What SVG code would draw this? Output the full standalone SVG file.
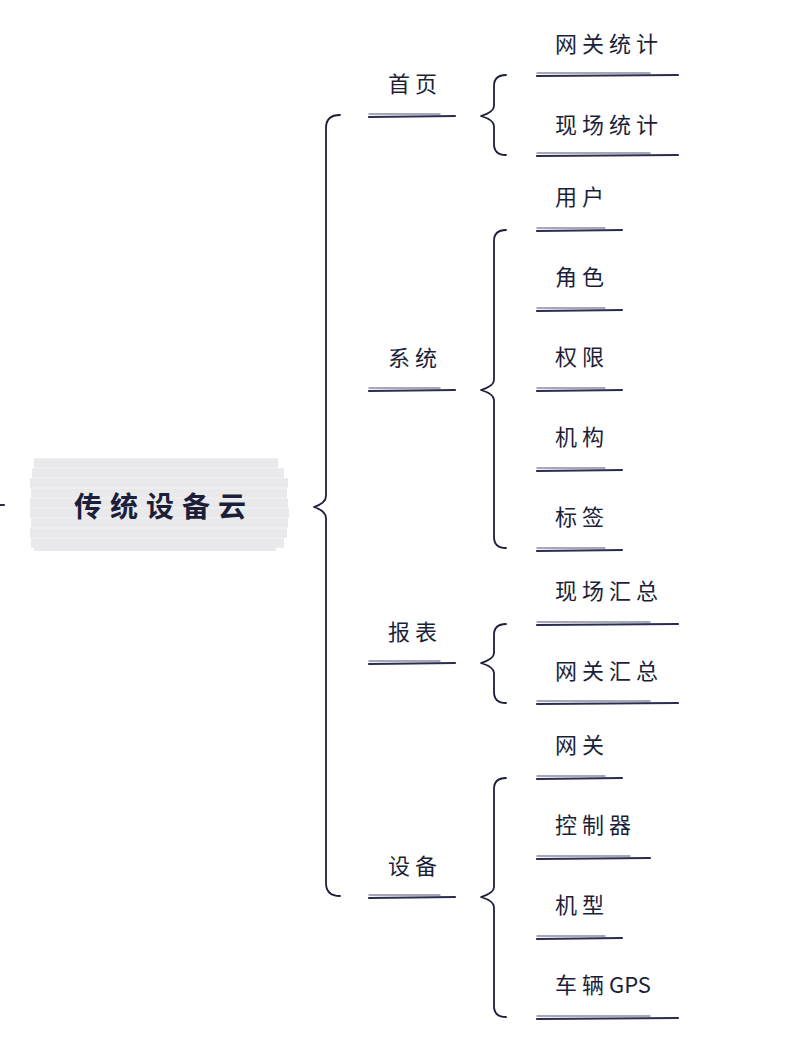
<svg xmlns="http://www.w3.org/2000/svg" width="806" height="1056" viewBox="0 0 806 1056">
<defs>
<style>
.br{fill:none;stroke:#1c1f3a;stroke-width:1.8;stroke-linecap:round;stroke-linejoin:round}
.u1{stroke:#2a2d4f;stroke-width:2.2;stroke-linecap:round}
.u2{stroke:#8a8ca0;stroke-width:1.4;stroke-linecap:round}
.t{font-family:"Noto Sans CJK SC","Noto Sans",sans-serif;font-size:22px;fill:#1c1f3a;letter-spacing:5px}
.root{font-family:"Noto Sans CJK SC","Noto Sans",sans-serif;font-size:28px;font-weight:bold;fill:#1c1f3a;letter-spacing:8px}
.bg{stroke:#e9e9eb;stroke-width:9.5;stroke-linecap:butt}
.gps{letter-spacing:0px}
</style>
</defs>
<rect width="806" height="1056" fill="#ffffff"/>
<g id="connectors">
<path class="br" d="M340,115 Q326,115 326,128 L326,496 Q326,503 314,507 Q326,511 326,518 L326,883 Q326,896 340,896"/>
<path class="br" d="M506,75 Q494,75 494,86 L494,106 Q494,112 481,116 Q494,120 494,126 L494,144 Q494,155 506,155"/>
<path class="br" d="M506,230 Q494,230 494,241 L494,380 Q494,386 481,390 Q494,394 494,400 L494,537 Q494,548 506,548"/>
<path class="br" d="M506,624 Q494,624 494,635 L494,653 Q494,659 481,663 Q494,667 494,673 L494,692 Q494,703 506,703"/>
<path class="br" d="M506,778 Q494,778 494,789 L494,887 Q494,893 481,897 Q494,901 494,907 L494,1006 Q494,1017 506,1017"/>
<line x1="0" y1="505" x2="4" y2="505" class="u1"/>
</g>
<g id="root">
<line class="bg" x1="34" y1="463" x2="278" y2="463"/>
<line class="bg" x1="32" y1="473" x2="284" y2="473"/>
<line class="bg" x1="30" y1="483" x2="288" y2="483"/>
<line class="bg" x1="31" y1="493" x2="287" y2="493"/>
<line class="bg" x1="30" y1="503" x2="288" y2="503"/>
<line class="bg" x1="30" y1="513" x2="289" y2="513"/>
<line class="bg" x1="31" y1="523" x2="288" y2="523"/>
<line class="bg" x1="30" y1="533" x2="287" y2="533"/>
<line class="bg" x1="31" y1="543" x2="284" y2="543"/>
<line class="bg" x1="34" y1="549" x2="276" y2="549" style="stroke-width:4"/>
<text class="root" x="74" y="517">传统设备云</text>
</g>
<g id="n-shouye"><text class="t" x="388" y="92">首页</text><line class="u1" x1="369" y1="117" x2="455" y2="116"/><line class="u2" x1="369" y1="114" x2="440" y2="114"/></g>
<g id="n-xitong"><text class="t" x="388" y="366">系统</text><line class="u1" x1="369" y1="391" x2="455" y2="390"/><line class="u2" x1="369" y1="388" x2="440" y2="388"/></g>
<g id="n-baobiao"><text class="t" x="388" y="640">报表</text><line class="u1" x1="369" y1="664" x2="455" y2="663"/><line class="u2" x1="369" y1="661" x2="440" y2="661"/></g>
<g id="n-shebei"><text class="t" x="388" y="874">设备</text><line class="u1" x1="369" y1="898" x2="455" y2="897"/><line class="u2" x1="369" y1="895" x2="440" y2="895"/></g>
<g id="l1"><text class="t" x="555" y="52">网关统计</text><line class="u1" x1="537" y1="76" x2="678" y2="75"/><line class="u2" x1="537" y1="73" x2="650" y2="73"/></g>
<g id="l2"><text class="t" x="555" y="133">现场统计</text><line class="u1" x1="537" y1="156" x2="678" y2="155"/><line class="u2" x1="537" y1="153" x2="650" y2="153"/></g>
<g id="l3"><text class="t" x="555" y="205">用户</text><line class="u1" x1="537" y1="231" x2="622" y2="230"/><line class="u2" x1="537" y1="228" x2="605" y2="228"/></g>
<g id="l4"><text class="t" x="555" y="285">角色</text><line class="u1" x1="537" y1="311" x2="622" y2="310"/><line class="u2" x1="537" y1="308" x2="605" y2="308"/></g>
<g id="l5"><text class="t" x="555" y="365">权限</text><line class="u1" x1="537" y1="391" x2="622" y2="390"/><line class="u2" x1="537" y1="388" x2="605" y2="388"/></g>
<g id="l6"><text class="t" x="555" y="445">机构</text><line class="u1" x1="537" y1="471" x2="622" y2="470"/><line class="u2" x1="537" y1="468" x2="605" y2="468"/></g>
<g id="l7"><text class="t" x="555" y="525">标签</text><line class="u1" x1="537" y1="551" x2="622" y2="550"/><line class="u2" x1="537" y1="548" x2="605" y2="548"/></g>
<g id="l8"><text class="t" x="555" y="599">现场汇总</text><line class="u1" x1="537" y1="625" x2="678" y2="624"/><line class="u2" x1="537" y1="622" x2="650" y2="622"/></g>
<g id="l9"><text class="t" x="555" y="679">网关汇总</text><line class="u1" x1="537" y1="704" x2="678" y2="703"/><line class="u2" x1="537" y1="701" x2="650" y2="701"/></g>
<g id="l10"><text class="t" x="555" y="753">网关</text><line class="u1" x1="537" y1="779" x2="622" y2="778"/><line class="u2" x1="537" y1="776" x2="605" y2="776"/></g>
<g id="l11"><text class="t" x="555" y="833">控制器</text><line class="u1" x1="537" y1="859" x2="650" y2="858"/><line class="u2" x1="537" y1="856" x2="630" y2="856"/></g>
<g id="l12"><text class="t" x="555" y="913">机型</text><line class="u1" x1="537" y1="939" x2="622" y2="938"/><line class="u2" x1="537" y1="936" x2="605" y2="936"/></g>
<g id="l13"><text class="t" x="555" y="993">车辆<tspan class="gps">GPS</tspan></text><line class="u1" x1="537" y1="1019" x2="678" y2="1018"/><line class="u2" x1="537" y1="1016" x2="650" y2="1016"/></g>
</svg>
